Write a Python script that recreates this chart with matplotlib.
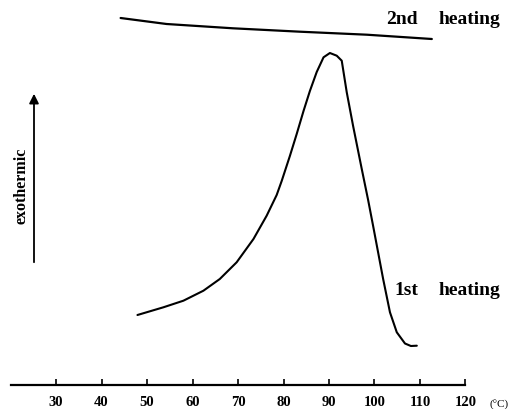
import matplotlib.pyplot as plt

# temperatura (gradi C) e flusso di calore in unita' arbitrarie (su = esotermico)
temp_1st = [47.9, 53.6, 58.0, 62.4, 66.0, 69.7, 73.4, 76.3, 78.5, 79.6, 81.4, 82.9,
            84.4, 85.8, 87.3, 88.8, 90.2, 91.7, 92.8, 93.9, 95.3, 97.2,
            98.6, 99.7, 101.9, 103.4, 104.9, 106.7, 108.0, 109.3]
flow_1st = [70, 77.7, 84.3, 94.3, 106, 122.7, 146, 169.3, 190, 204, 229, 251,
            274, 294, 313, 327.7, 332, 329.3, 324.3, 292.7, 259, 216,
            185, 159, 106, 72.7, 52.7, 41.5, 39, 39.3]

temp_2nd = [44.2, 54.3, 68.9, 83.6, 98.3, 112.6]
flow_2nd = [367, 361, 356.7, 353.3, 350.3, 346]

ticks = [30, 40, 50, 60, 70, 80, 90, 100, 110, 120]

serif = ['Liberation Serif', 'DejaVu Serif']

fig = plt.figure(figsize=(5.18, 4.10), dpi=100)
ax = fig.add_axes([0, 0, 1, 1])
ax.set_xlim(17.69, 131.54)
ax.set_ylim(-24, 386)

ax.plot(temp_1st, flow_1st, color='black', lw=1.5, solid_capstyle='round',
        solid_joinstyle='round')
ax.plot(temp_2nd, flow_2nd, color='black', lw=1.6, solid_capstyle='round',
        solid_joinstyle='round')

# solo l'asse x, come nel grafico originale
for s in ['top', 'left', 'right']:
    ax.spines[s].set_visible(False)
ax.spines['bottom'].set_position(('data', 0))
ax.spines['bottom'].set_bounds(20, 120)
ax.spines['bottom'].set_linewidth(1.6)
ax.set_yticks([])
ax.set_xticks(ticks)
ax.set_xticklabels([str(t) for t in ticks], family=serif, fontweight='bold', fontsize=10.5)
ax.tick_params(axis='x', direction='in', length=4, width=1.2, pad=7)

# unita' di misura in pixel (origine in basso a sinistra)
ax.text(489, 410 - 405, '(°C)', transform=None, fontsize=8, family=serif,
        ha='left', va='center')

# etichette delle curve
W, H = 518, 410
lab = dict(va='baseline', ha='center', family=serif, fontweight='bold', fontsize=14)
fig.text(402 / W, 1 - 24 / H, '2nd', **lab)
fig.text(469 / W, 1 - 24 / H, 'heating', **lab)
fig.text(406 / W, 1 - 295 / H, '1st', **lab)
fig.text(469 / W, 1 - 295 / H, 'heating', **lab)
fig.text(22 / W, 1 - 186 / H, 'exothermic', rotation=90, ha='center', va='center',
         family=serif, fontweight='bold', fontsize=11.5)
ax.annotate('', xy=(34 / W, 1 - 92 / H), xytext=(34 / W, 1 - 266 / H),
            xycoords='figure fraction', textcoords='figure fraction',
            arrowprops=dict(arrowstyle='-|>', color='black', lw=1.3,
                            mutation_scale=14))

fig.savefig('out.png', dpi=100)
